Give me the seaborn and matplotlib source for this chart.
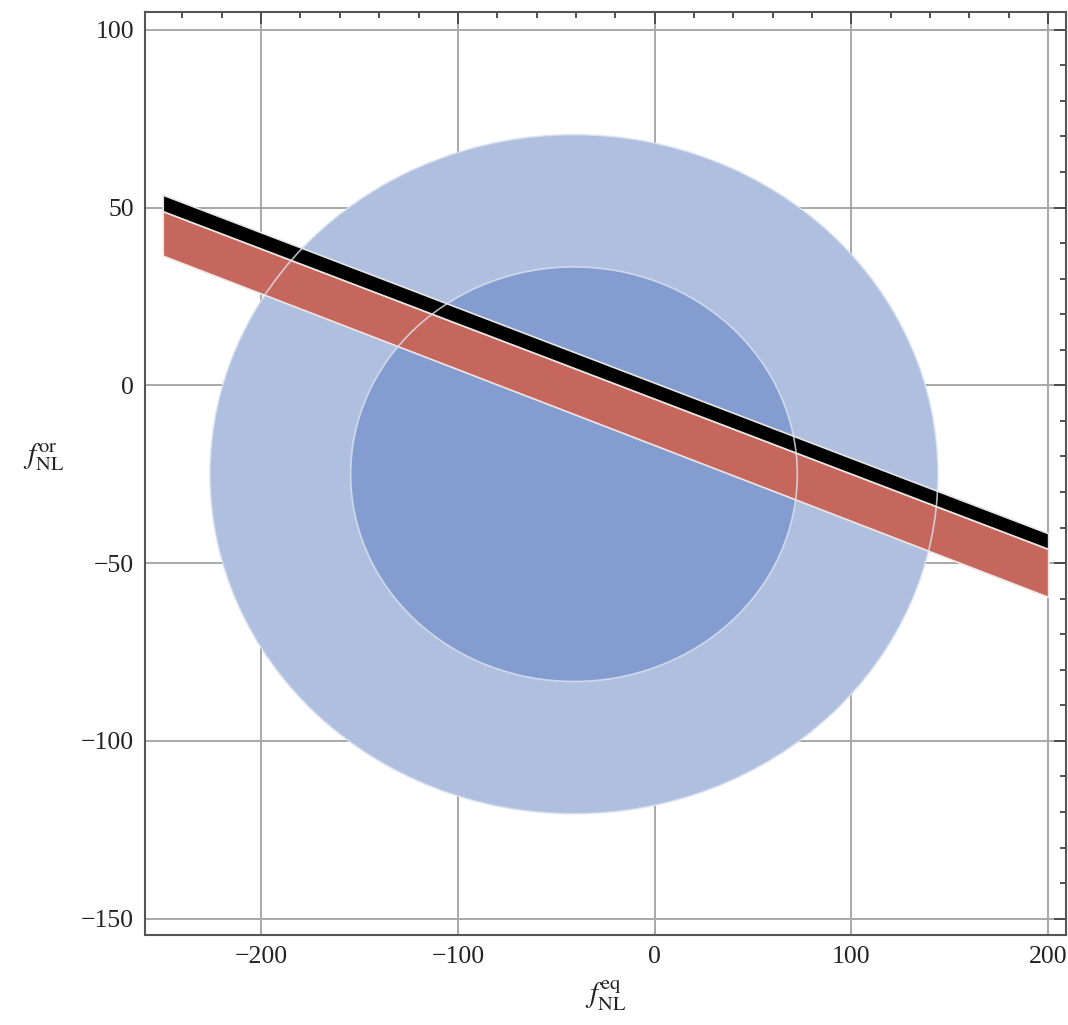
import numpy as np
import matplotlib
matplotlib.use("Agg")
import matplotlib.pyplot as plt
from matplotlib.patches import Ellipse
from matplotlib.ticker import MultipleLocator
import seaborn as sns

# confidence regions (ellipses): centre x, centre y, half-width, half-height
region_names = ["outer", "inner"]
center_x = [-41.0, -41.0]
center_y = [-25.0, -25.0]
half_w = [185.0, 113.5]
half_h = [95.5, 58.3]
region_colors = ["#aebfe0", "#849dd0"]

# bands: x end points and the y of their upper / lower edges there
band_x = [-250, 200]
black_upper = [53.6, -41.6]
black_lower = [49.0, -46.0]
red_upper = [49.0, -46.0]
red_lower = [36.5, -59.5]

x_ticks = [-200, -100, 0, 100, 200]
y_ticks = [-150, -100, -50, 0, 50, 100]

sns.set_style("white")
plt.rcParams["font.family"] = ["Liberation Serif", "DejaVu Serif"]
plt.rcParams["mathtext.fontset"] = "stix"

fig = plt.figure(figsize=(10.68, 10.25), dpi=100)
ax = fig.add_axes([0.1358, 0.0878, 0.8622, 0.9005])

for cx, cy, w, h, c in zip(center_x, center_y, half_w, half_h, region_colors):
    ax.add_patch(Ellipse((cx, cy), 2 * w, 2 * h, facecolor=c, edgecolor="none", zorder=2))

xs = np.array(band_x, dtype=float)
ax.fill_between(xs, red_lower, red_upper, facecolor="#c6675d", edgecolor="#f2e6e4",
                linewidth=1.2, zorder=3)
ax.fill_between(xs, black_lower, black_upper, facecolor="black", edgecolor="#e6e6e6",
                linewidth=1.2, zorder=4)

# thin pale outlines of the regions on top of everything
for cx, cy, w, h in zip(center_x, center_y, half_w, half_h):
    ax.add_patch(Ellipse((cx, cy), 2 * w, 2 * h, facecolor="none", edgecolor="#dde3ee",
                         linewidth=1.2, alpha=0.8, zorder=5))

ax.set_xlim(-259, 209)
ax.set_ylim(-154.6, 105)
ax.set_xticks(x_ticks)
ax.set_yticks(y_ticks)
ax.set_xticklabels([str(t).replace("-", "\u2212") for t in x_ticks])
ax.set_yticklabels([str(t).replace("-", "\u2212") for t in y_ticks])
ax.xaxis.set_minor_locator(MultipleLocator(20))
ax.yaxis.set_minor_locator(MultipleLocator(10))

ax.grid(True, which="major", color="#a8a8a8", linewidth=1.4, zorder=1)
ax.set_axisbelow(True)

ax.tick_params(which="both", direction="in", top=True, right=True, color="#444444",
               labelsize=18.5, labelcolor="#222222", pad=8)
ax.tick_params(which="major", length=8.5, width=1.3)
ax.tick_params(which="minor", length=4, width=1.3)
for sp in ax.spines.values():
    sp.set_color("#555555")
    sp.set_linewidth(1.5)

ax.set_xlabel(r"$f_{\rm NL}^{\rm eq}$", fontsize=21, color="#222222", labelpad=8)
ax.set_ylabel(r"$f_{\rm NL}^{\rm or}$", fontsize=21, color="#222222", rotation=0)
ax.yaxis.set_label_coords(-0.11, 0.5)

fig.savefig("out.png", dpi=100)
